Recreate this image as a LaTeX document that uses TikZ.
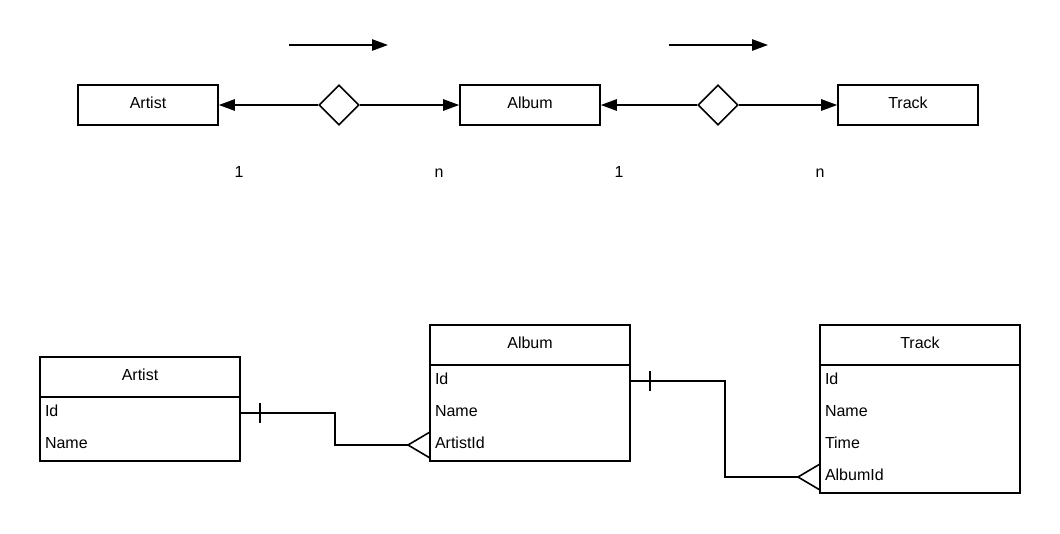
\documentclass[tikz,border=0pt]{standalone}
\usepackage{fontspec}
\setmainfont{Liberation Sans}
\usetikzlibrary{arrows.meta, positioning, shapes.geometric, calc}

\begin{document}
\begin{tikzpicture}[
  x=0.75pt, y=-0.75pt,
  font=\fontsize{12}{14}\selectfont,
  line width=1.2pt,
  ent/.style={draw, minimum width=105pt, minimum height=30pt, inner sep=0pt, text depth=3pt},
  rel/.style={draw, diamond, minimum width=30pt, minimum height=30pt, inner sep=0pt, fill=white},
  head/.style={draw, minimum width=150pt, minimum height=30pt, inner sep=0pt, outer sep=0pt, text depth=3pt},
  row/.style={minimum width=150pt, minimum height=24pt, inner xsep=3.75pt, inner ysep=0pt, outer sep=0pt, text width=142.5pt, align=left, text depth=3pt},
  card/.style={inner sep=0pt},
  >={Triangle[length=12pt,width=8.5pt]}
]
\useasboundingbox (0,0) rectangle (1060,533);

% chen notation
\node[ent] (artist) at (148,105) {Artist};
\node[rel] (writes) at (339,105) {};
\node[ent] (album) at (530,105) {Album};
\node[rel] (contains) at (718,105) {};
\node[ent] (track) at (908,105) {Track};
\draw[->] (writes) -- (artist);
\draw[->] (writes) -- (album);
\draw[->] (contains) -- (album);
\draw[->] (contains) -- (track);
\coordinate (dirAs) at (289,45);
\coordinate (dirAe) at (388,45);
\coordinate (dirBs) at (669,45);
\coordinate (dirBe) at (768,45);
\draw[->] (dirAs) -- (dirAe);
\draw[->] (dirBs) -- (dirBe);
\node[card] (artistOne) at (239,172) {1};
\node[card] (albumMany) at (439,173) {n};
\node[card] (albumOne) at (619,172) {1};
\node[card] (trackMany) at (820,173) {n};

% tables
\node[head] (artistHead) at (140,377) {Artist};
\node[row, below=0pt of artistHead] (artistId) {Id};
\node[row, below=0pt of artistId] (artistName) {Name};
\draw (artistHead.north west) rectangle (artistName.south east);

\node[head] (albumHead) at (530,345) {Album};
\node[row, below=0pt of albumHead] (albumId) {Id};
\node[row, below=0pt of albumId] (albumName) {Name};
\node[row, below=0pt of albumName] (albumArtistId) {ArtistId};
\draw (albumHead.north west) rectangle (albumArtistId.south east);

\node[head] (trackHead) at (920,345) {Track};
\node[row, below=0pt of trackHead] (trackId) {Id};
\node[row, below=0pt of trackId] (trackName) {Name};
\node[row, below=0pt of trackName] (trackTime) {Time};
\node[row, below=0pt of trackTime] (trackAlbumId) {AlbumId};
\draw (trackHead.north west) rectangle (trackAlbumId.south east);

% crow's foot links
\draw (artistId.east) -- ++(95,0) |- ($(albumArtistId.west)+(-22,0)$);
\draw ($(artistId.east)+(20,-10)$) -- ++(0,20);
\draw ($(albumArtistId.west)+(0,-13)$) -- ++(-22,13) -- ++(22,13);

\draw (albumId.east) -- ++(95,0) |- ($(trackAlbumId.west)+(-22,0)$);
\draw ($(albumId.east)+(20,-10)$) -- ++(0,20);
\draw ($(trackAlbumId.west)+(0,-13)$) -- ++(-22,13) -- ++(22,13);
\end{tikzpicture}
\end{document}
